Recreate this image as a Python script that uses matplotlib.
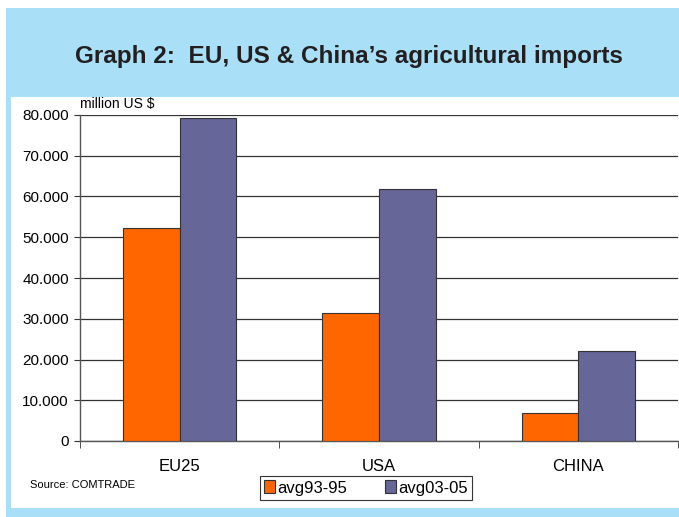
import matplotlib.pyplot as plt
from matplotlib.patches import Rectangle
import numpy as np

# data (million US $)
regions = ['EU25', 'USA', 'CHINA']
avg93_95 = [52300, 31300, 6900]
avg03_05 = [79300, 61900, 22200]
series_names = ['avg93-95', 'avg03-05']
yticks = [0, 10000, 20000, 30000, 40000, 50000, 60000, 70000, 80000]

plt.rcParams['font.family'] = ['Liberation Sans', 'DejaVu Sans']

fig = plt.figure(figsize=(6.79, 5.17), dpi=100)
W, H = 679, 517

# light blue frame and white panel (behind the axes)
blue = '#a9e0f8'
fig.add_artist(Rectangle((6 / W, 0), 1 - 6 / W, 1 - 8 / H, transform=fig.transFigure,
                         facecolor=blue, edgecolor='none', zorder=-20))
fig.add_artist(Rectangle((11 / W, 9 / H), 1 - 11 / W, (508 - 97) / H, transform=fig.transFigure,
                         facecolor='white', edgecolor='none', zorder=-10))

fig.text(349 / W, 1 - 56 / H, "Graph 2:  EU, US & China\u2019s agricultural imports",
         ha='center', va='center', fontsize=17.5, fontweight='bold', color='#231f20',
         family=['Liberation Sans Narrow', 'Liberation Sans', 'DejaVu Sans'])

ax = fig.add_axes([80 / W, 1 - 441 / H, 598 / W, (441 - 115) / H])
ax.set_facecolor('white')

x = np.arange(len(regions))
w = 0.285
ax.bar(x - w / 2, avg93_95, w, color='#ff6600', edgecolor='#333333', linewidth=0.8,
       label=series_names[0], zorder=3)
ax.bar(x + w / 2, avg03_05, w, color='#666699', edgecolor='#333333', linewidth=0.8,
       label=series_names[1], zorder=3)

ax.set_xlim(-0.5, 2.5)
ax.set_ylim(0, 80000)
ax.set_yticks(yticks)
ax.set_yticklabels(['0' if v == 0 else f'{v // 1000}.000' for v in yticks], fontsize=11)
ax.yaxis.grid(True, color='#333333', linewidth=0.9, zorder=0)
ax.set_axisbelow(True)
ax.set_xticks(x)
ax.set_xticklabels(regions, fontsize=12)
ax.set_xticks([-0.5, 0.5, 1.5, 2.5], minor=True)
ax.tick_params(axis='x', which='major', length=0, pad=13)
ax.tick_params(axis='x', which='minor', length=5, color='#333333')
ax.tick_params(axis='y', length=4, color='#333333', pad=4)
for s in ['top', 'right']:
    ax.spines[s].set_visible(False)
for s in ['left', 'bottom']:
    ax.spines[s].set_color('#555555')
    ax.spines[s].set_linewidth(1.0)

ax.text(0.0, 1.012, 'million US $', transform=ax.transAxes, fontsize=10, va='bottom', ha='left')

fig.text(30 / W, 1 - 485 / H, 'Source: COMTRADE', fontsize=8, va='center', ha='left')

leg = ax.legend(loc='center', bbox_to_anchor=(366 / W, 1 - 488 / H), bbox_transform=fig.transFigure,
                ncol=2, fontsize=12, frameon=True, fancybox=False, handlelength=0.65,
                handleheight=0.8, handletextpad=0.15, columnspacing=2.3, borderpad=0.25)
leg.get_frame().set_edgecolor('black')
leg.get_frame().set_linewidth(0.8)

fig.savefig('out.png', dpi=100)
